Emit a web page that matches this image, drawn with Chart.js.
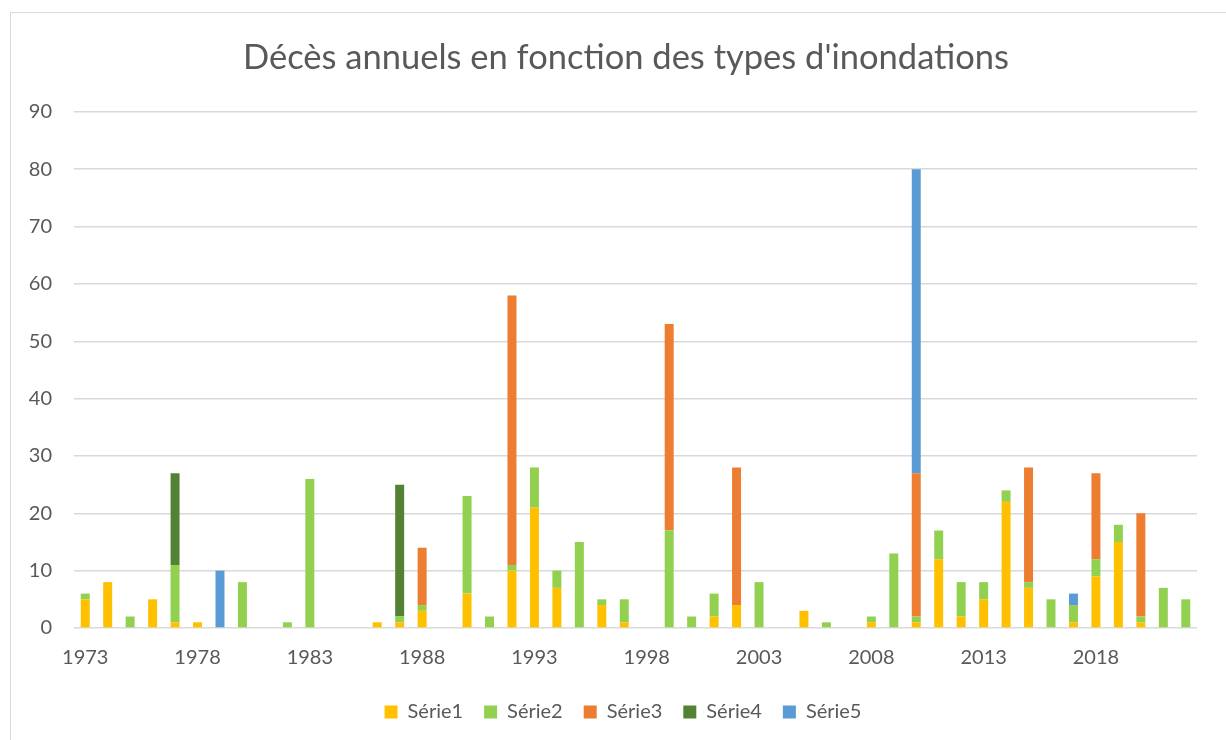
<!DOCTYPE html>
<html>
<head>
<meta charset="utf-8">
<script src="https://cdn.jsdelivr.net/npm/chart.js@4.4.1/dist/chart.umd.min.js"></script>
<style>
  html, body { margin: 0; padding: 0; background: #fff; overflow: hidden; }
  #chart { display: block; }
  #frame { position: absolute; left: 10px; top: 12px; width: 1400px; height: 900px;
           border: 1.5px solid #d9d9d9; pointer-events: none; }
</style>
</head>
<body>
<canvas id="chart" width="1226" height="732"></canvas>
<div id="frame"></div>
<script>
// years on the category axis
const years = [
  '1973','1974','1975','1976','1977','1978','1979','1980','1981','1982',
  '1983','1984','1985','1986','1987','1988','1989','1990','1991','1992',
  '1993','1994','1995','1996','1997','1998','1999','2000','2001','2002',
  '2003','2004','2005','2006','2007','2008','2009','2010','2011','2012',
  '2013','2014','2015','2016','2017','2018','2019','2020','2021','2022'
];
// only every 5th year gets a label
const shownYears = ['1973','1978','1983','1988','1993','1998','2003','2008','2013','2018'];

const serie1 = [5,8,null,5,1,1,null,null,null,null,
  null,null,null,1,1,3,null,6,null,10,
  21,7,null,4,1,null,null,null,2,4,
  null,null,3,null,null,1,null,1,12,2,
  5,22,7,null,1,9,15,1,null,null];
const serie2 = [1,null,2,null,10,null,null,8,null,1,
  26,null,null,null,1,1,null,17,2,1,
  7,3,15,1,4,null,17,2,4,null,
  8,null,null,1,null,1,13,1,5,6,
  3,2,1,5,3,3,3,1,7,5];
const serie3 = [null,null,null,null,null,null,null,null,null,null,
  null,null,null,null,null,10,null,null,null,47,
  null,null,null,null,null,null,36,null,null,24,
  null,null,null,null,null,null,null,25,null,null,
  null,null,20,null,null,15,null,18,null,null];
const serie4 = [null,null,null,null,16,null,null,null,null,null,
  null,null,null,null,23,null,null,null,null,null,
  null,null,null,null,null,null,null,null,null,null,
  null,null,null,null,null,null,null,null,null,null,
  null,null,null,null,null,null,null,null,null,null];
const serie5 = [null,null,null,null,null,null,10,null,null,null,
  null,null,null,null,null,null,null,null,null,null,
  null,null,null,null,null,null,null,null,null,null,
  null,null,null,null,null,null,null,53,null,null,
  null,null,null,null,2,null,null,null,null,null];

const yTicks = [0,10,20,30,40,50,60,70,80,90];

const TEXT = '#595959';
const GRID = '#d9d9d9';
const FONT = 'Lato';

// title and legend are centred on the outer frame, not on the canvas
const shiftPlugin = {
  id: 'shift',
  afterLayout(chart) {
    if (chart.titleBlock) { chart.titleBlock.left += 13; chart.titleBlock.right += 13; }
    if (chart.legend) { chart.legend.left += 10; chart.legend.right += 10; }
  },
  beforeDraw(chart) {
    const ctx = chart.ctx;
    ctx.save();
    ctx.fillStyle = '#fff';
    ctx.fillRect(0, 0, chart.width, chart.height);
    ctx.restore();
  }
};

function makeSet(label, data, color) {
  return {
    label: label,
    data: data,
    backgroundColor: color,
    borderWidth: 0,
    categoryPercentage: 1,
    barPercentage: 0.4,
    stack: 'a'
  };
}

new Chart(document.getElementById('chart'), {
  type: 'bar',
  data: {
    labels: years,
    datasets: [
      makeSet('Série1', serie1, '#FFC000'),
      makeSet('Série2', serie2, '#92D050'),
      makeSet('Série3', serie3, '#ED7D31'),
      makeSet('Série4', serie4, '#548235'),
      makeSet('Série5', serie5, '#5B9BD5')
    ]
  },
  plugins: [shiftPlugin],
  options: {
    responsive: false,
    animation: false,
    devicePixelRatio: 1,
    layout: { padding: { left: 29, right: 29, top: 0, bottom: 0 } },
    plugins: {
      title: {
        display: true,
        text: "Décès annuels en fonction des types d'inondations",
        color: TEXT,
        font: { family: FONT, size: 34.5, weight: 'normal', lineHeight: 1.2 },
        padding: { top: 37, bottom: 33.5 }
      },
      legend: {
        position: 'bottom',
        labels: {
          color: TEXT,
          font: { family: FONT, size: 20 },
          boxWidth: 13,
          boxHeight: 13,
          padding: 21
        }
      },
      tooltip: { enabled: false }
    },
    scales: {
      x: {
        stacked: true,
        grid: { display: false, drawTicks: false },
        border: { display: false },
        afterFit(s) { s.height = 53; },
        ticks: {
          color: TEXT,
          font: { family: FONT, size: 20 },
          autoSkip: false,
          maxRotation: 0,
          padding: 18,
          callback(v, i) {
            const y = years[i];
            return shownYears.includes(y) ? y : '';
          }
        }
      },
      y: {
        stacked: true,
        min: yTicks[0],
        max: yTicks[yTicks.length - 1],
        afterBuildTicks(s) { s.ticks = yTicks.map(v => ({ value: v })); },
        grid: { color: GRID, lineWidth: 1.5, drawTicks: false },
        border: { display: false },
        afterFit(s) { s.width = 45; },
        ticks: {
          color: TEXT,
          font: { family: FONT, size: 20 },
          padding: 22
        }
      }
    }
  }
});
</script>
</body>
</html>
